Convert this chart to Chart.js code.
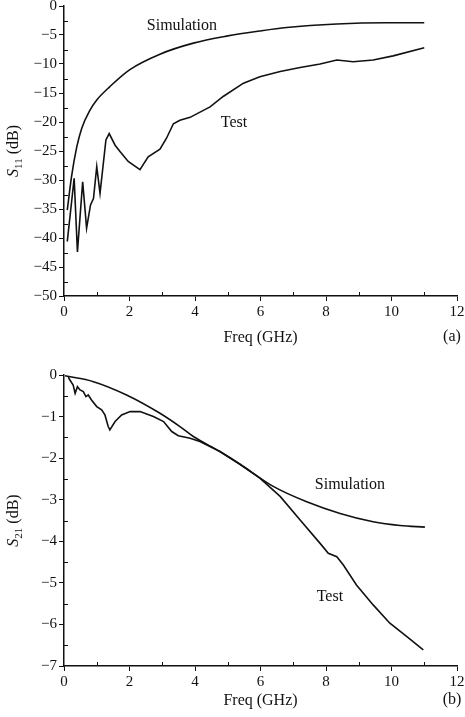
<!DOCTYPE html>
<html>
<head>
<meta charset="utf-8">
<script src="https://cdn.jsdelivr.net/npm/chart.js@4.4.0/dist/chart.umd.min.js"></script>
<style>
  html, body { margin: 0; padding: 0; background: #fff; }
  #wrap { position: relative; width: 465px; height: 717px; }
  canvas { position: absolute; left: 0; }
  #chartA { top: 0; }
  #chartB { top: 358px; }
</style>
</head>
<body>
<div id="wrap">
  <canvas id="chartA" width="465" height="358"></canvas>
  <canvas id="chartB" width="465" height="359"></canvas>
</div>
<script>
// (a) S11
var simFreqA = [0.10, 0.23, 0.39, 0.54, 0.79, 1.0, 1.4, 2.0, 2.93, 3.95, 4.96, 5.98, 6.8, 8.33, 9.85, 11.0];
var simS11   = [-35.2, -29.4, -24.3, -21.1, -18.0, -16.2, -13.9, -11.0, -8.3, -6.4, -5.2, -4.3, -3.7, -3.1, -2.9, -2.9];
var testFreqA = [0.10, 0.31, 0.41, 0.57, 0.69, 0.81, 0.90, 1.0, 1.1, 1.28, 1.38, 1.56, 1.71, 1.96, 2.32, 2.57, 2.93,
                 3.13, 3.34, 3.54, 3.85, 4.46, 4.86, 5.48, 5.98, 6.6, 7.21, 7.82, 8.33, 8.83, 9.44, 10.05, 11.0];
var testS11   = [-40.6, -29.7, -42.4, -30.3, -38.3, -34.3, -33.2, -27.7, -32.3, -23.1, -22.0, -24.0, -25.1, -26.8, -28.2, -26.0, -24.7,
                 -22.8, -20.3, -19.7, -19.2, -17.4, -15.6, -13.3, -12.2, -11.3, -10.6, -10.0, -9.3, -9.6, -9.3, -8.6, -7.2];

// (b) S21
var simFreqB = [0.03, 0.9, 1.91, 2.93, 3.54, 3.95, 4.76, 5.37, 6.39, 7.41, 8.43, 9.44, 10.26, 11.02];
var simS21   = [-0.02, -0.16, -0.48, -0.92, -1.24, -1.48, -1.84, -2.14, -2.68, -3.05, -3.33, -3.53, -3.62, -3.66];
var testFreqB = [0.13, 0.18, 0.28, 0.34, 0.41, 0.49, 0.59, 0.67, 0.74, 0.84, 1.0, 1.15, 1.25, 1.35, 1.4, 1.56, 1.76,
                 2.02, 2.32, 2.73, 3.04, 3.29, 3.49, 3.85, 4.15, 4.76, 5.37, 5.98, 6.6, 7.21, 7.82, 8.07, 8.33, 8.53,
                 8.93, 9.44, 9.95, 10.46, 10.97];
var testS21   = [-0.05, -0.12, -0.24, -0.44, -0.28, -0.36, -0.4, -0.52, -0.48, -0.6, -0.76, -0.84, -0.96, -1.24, -1.32, -1.12, -0.96,
                 -0.88, -0.88, -1.0, -1.12, -1.36, -1.46, -1.52, -1.6, -1.84, -2.15, -2.48, -2.92, -3.49, -4.05, -4.29, -4.37, -4.57,
                 -5.05, -5.53, -5.97, -6.29, -6.61];

var xTicks = [0, 2, 4, 6, 8, 10, 12];
var xMinor = [1, 3, 5, 7, 9, 11];
var yTicksA = [0, -5, -10, -15, -20, -25, -30, -35, -40, -45, -50];
var yMinorA = [-2.5, -7.5, -12.5, -17.5, -22.5, -27.5, -32.5, -37.5, -42.5, -47.5];
var yTicksB = [0, -1, -2, -3, -4, -5, -6, -7];
var yMinorB = [-0.5, -1.5, -2.5, -3.5, -4.5, -5.5, -6.5];

var FONT = "'Liberation Serif', 'Times New Roman', serif";

function pts(xs, ys) {
  return xs.map(function (x, i) { return { x: x, y: ys[i] }; });
}

function minus(v) { return String(v).replace('-', '\u2212'); }

// draws minor ticks, the y title with subscript, and text labels
var extras = {
  id: 'extras',
  afterDraw: function (chart, args, opts) {
    var ctx = chart.ctx, xs = chart.scales.x, ys = chart.scales.y, a = chart.chartArea;
    ctx.save();
    ctx.strokeStyle = '#111';
    ctx.lineWidth = 1;
    opts.xMinor.forEach(function (v) {
      var px = Math.round(xs.getPixelForValue(v)) + 0.5;
      ctx.beginPath(); ctx.moveTo(px, a.bottom); ctx.lineTo(px, a.bottom - 4); ctx.stroke();
    });
    opts.yMinor.forEach(function (v) {
      var py = Math.round(ys.getPixelForValue(v)) + 0.5;
      ctx.beginPath(); ctx.moveTo(a.left, py); ctx.lineTo(a.left + 4, py); ctx.stroke();
    });

    ctx.fillStyle = '#111';
    ctx.textBaseline = 'middle';
    ctx.textAlign = 'center';
    ctx.font = '16px ' + FONT;
    opts.labels.forEach(function (l) {
      ctx.fillText(l.text, xs.getPixelForValue(l.x), ys.getPixelForValue(l.y));
    });
    ctx.fillText(opts.tag, 452, chart.height - opts.tagOffset);

    // y title: S (italic) + subscript + " (dB)"
    var cy = (a.top + a.bottom) / 2;
    ctx.translate(14, cy);
    ctx.rotate(-Math.PI / 2);
    ctx.textAlign = 'left';
    ctx.font = 'italic 16px ' + FONT;
    var w1 = ctx.measureText('S').width;
    ctx.font = '11px ' + FONT;
    var w2 = ctx.measureText(opts.sub).width;
    ctx.font = '16px ' + FONT;
    var w3 = ctx.measureText(' (dB)').width;
    var x0 = -(w1 + w2 + w3) / 2;
    ctx.font = 'italic 16px ' + FONT;
    ctx.fillText('S', x0, 0);
    ctx.font = '11px ' + FONT;
    ctx.fillText(opts.sub, x0 + w1, 5);
    ctx.font = '16px ' + FONT;
    ctx.fillText(' (dB)', x0 + w1 + w2, 0);
    ctx.restore();
  }
};

function makeChart(id, datasets, yMin, yMax, yTicks, xHeight, topPad, titleBottom, extraOpts) {
  return new Chart(document.getElementById(id), {
    type: 'scatter',
    data: { datasets: datasets },
    options: {
      responsive: false,
      animation: false,
      devicePixelRatio: 1,
      layout: { padding: { top: topPad, right: 8, left: 0, bottom: 0 } },
      elements: {
        point: { radius: 0 },
        line: { borderWidth: 1.6, borderColor: '#111', tension: 0 }
      },
      plugins: { legend: { display: false }, tooltip: { enabled: false }, extras: extraOpts },
      scales: {
        x: {
          type: 'linear', min: 0, max: 12,
          afterFit: function (s) { s.height = xHeight; s.paddingLeft = 0; s.paddingRight = 0; },
          afterBuildTicks: function (s) { s.ticks = xTicks.map(function (v) { return { value: v }; }); },
          border: { display: true, color: '#111', width: 1.5 },
          grid: { drawOnChartArea: false, drawTicks: true, tickLength: 5, color: '#111' },
          ticks: { color: '#111', padding: 2, maxRotation: 0, font: { family: FONT, size: 15 } },
          title: { display: true, text: 'Freq (GHz)', color: '#111', font: { family: FONT, size: 16 },
                   padding: { top: 0, bottom: titleBottom } }
        },
        y: {
          type: 'linear', min: yMin, max: yMax,
          afterFit: function (s) { s.width = 64; s.paddingTop = 0; s.paddingBottom = 0; },
          afterBuildTicks: function (s) { s.ticks = yTicks.map(function (v) { return { value: v }; }); },
          border: { display: true, color: '#111', width: 1.5 },
          grid: { drawOnChartArea: false, drawTicks: true, tickLength: 5, color: '#111' },
          ticks: { color: '#111', padding: 2, font: { family: FONT, size: 15 },
                   callback: function (v) { return minus(v); } }
        }
      }
    },
    plugins: [extras]
  });
}

makeChart('chartA', [
  { label: 'Simulation', data: pts(simFreqA, simS11), showLine: true, cubicInterpolationMode: 'monotone' },
  { label: 'Test', data: pts(testFreqA, testS11), showLine: true }
], -50, 0, yTicksA, 62, 6, 11, {
  xMinor: xMinor, yMinor: yMinorA, sub: '11', tag: '(a)', tagOffset: 21,
  labels: [{ text: 'Simulation', x: 3.6, y: -3.45 }, { text: 'Test', x: 5.19, y: -20.2 }]
});

makeChart('chartB', [
  { label: 'Simulation', data: pts(simFreqB, simS21), showLine: true, cubicInterpolationMode: 'monotone' },
  { label: 'Test', data: pts(testFreqB, testS21), showLine: true }
], -7, 0, yTicksB, 51, 17, 7, {
  xMinor: xMinor, yMinor: yMinorB, sub: '21', tag: '(b)', tagOffset: 17,
  labels: [{ text: 'Simulation', x: 8.73, y: -2.64 }, { text: 'Test', x: 8.12, y: -5.34 }]
});
</script>
</body>
</html>
